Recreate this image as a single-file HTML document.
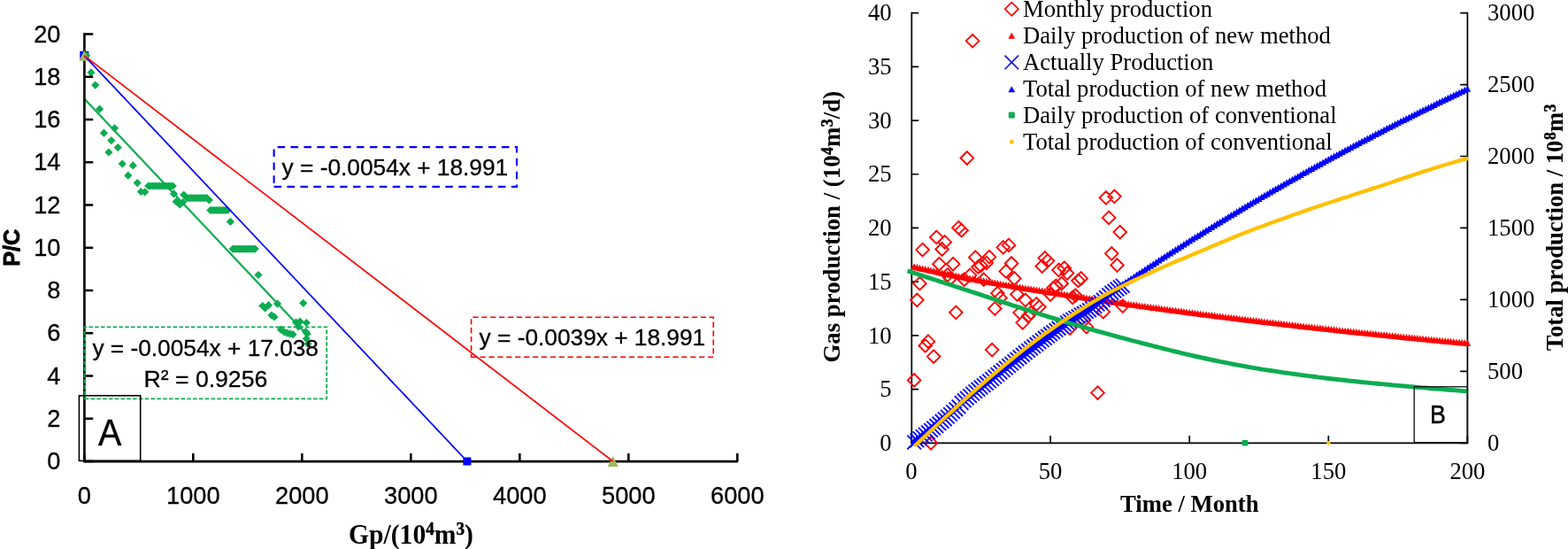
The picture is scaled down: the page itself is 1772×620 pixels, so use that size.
<!DOCTYPE html>
<html lang="en"><head><meta charset="utf-8"><title>Figure</title>
<style>
html,body{margin:0;padding:0;background:#fff;}
body{width:1772px;height:620px;overflow:hidden;}
svg{display:block;}
text{fill:#000;}
.cb{stroke:#000;stroke-width:0.3px;}
.sp{stroke:#000;stroke-width:0.45px;}
</style></head><body>
<svg width="1772" height="620" viewBox="0 0 1772 620">
<rect width="1772" height="620" fill="#fff"/>
<g id="left">
<rect x="90.3" y="57.8" width="10" height="10" fill="#0000ff"/>
<path d="M93.0 62.8L97.6 58.2L102.2 62.8L97.6 67.4ZM98.3 81.9L102.9 77.3L107.5 81.9L102.9 86.5ZM103.1 96.1L107.7 91.5L112.3 96.1L107.7 100.7ZM108.0 123.2L112.6 118.6L117.2 123.2L112.6 127.8ZM124.9 144.8L129.5 140.2L134.1 144.8L129.5 149.4ZM112.8 150.2L117.4 145.6L122.0 150.2L117.4 154.8ZM121.2 158.7L125.8 154.1L130.4 158.7L125.8 163.3ZM128.6 166.6L133.2 162.0L137.8 166.6L133.2 171.2ZM118.3 172.0L122.9 167.4L127.5 172.0L122.9 176.6ZM133.6 185.0L138.2 180.4L142.8 185.0L138.2 189.6ZM145.7 186.9L150.3 182.3L154.9 186.9L150.3 191.5ZM140.2 198.2L144.8 193.6L149.4 198.2L144.8 202.8ZM150.6 206.6L155.2 202.0L159.8 206.6L155.2 211.2ZM154.8 216.5L159.4 211.9L164.0 216.5L159.4 221.1ZM159.1 216.8L163.7 212.2L168.3 216.8L163.7 221.4ZM163.1 210.0L167.7 205.4L172.3 210.0L167.7 214.6ZM165.6 210.0L170.2 205.4L174.8 210.0L170.2 214.6ZM168.1 210.0L172.7 205.4L177.3 210.0L172.7 214.6ZM170.6 210.0L175.2 205.4L179.8 210.0L175.2 214.6ZM173.1 210.0L177.7 205.4L182.3 210.0L177.7 214.6ZM175.6 210.0L180.2 205.4L184.8 210.0L180.2 214.6ZM178.1 210.0L182.7 205.4L187.3 210.0L182.7 214.6ZM180.6 210.0L185.2 205.4L189.8 210.0L185.2 214.6ZM183.1 210.0L187.7 205.4L192.3 210.0L187.7 214.6ZM185.6 210.0L190.2 205.4L194.8 210.0L190.2 214.6ZM188.1 210.0L192.7 205.4L197.3 210.0L192.7 214.6ZM190.6 210.0L195.2 205.4L199.8 210.0L195.2 214.6ZM191.9 218.9L196.5 214.3L201.1 218.9L196.5 223.5ZM194.6 227.7L199.2 223.1L203.8 227.7L199.2 232.3ZM198.6 231.0L203.2 226.4L207.8 231.0L203.2 235.6ZM201.9 228.5L206.5 223.9L211.1 228.5L206.5 233.1ZM203.1 220.0L207.7 215.4L212.3 220.0L207.7 224.6ZM206.7 223.7L211.3 219.1L215.9 223.7L211.3 228.3ZM209.2 223.7L213.8 219.1L218.4 223.7L213.8 228.3ZM211.7 223.7L216.3 219.1L220.9 223.7L216.3 228.3ZM214.2 223.7L218.8 219.1L223.4 223.7L218.8 228.3ZM216.7 223.7L221.3 219.1L225.9 223.7L221.3 228.3ZM219.2 223.7L223.8 219.1L228.4 223.7L223.8 228.3ZM221.7 223.7L226.3 219.1L230.9 223.7L226.3 228.3ZM224.2 223.7L228.8 219.1L233.4 223.7L228.8 228.3ZM226.7 223.7L231.3 219.1L235.9 223.7L231.3 228.3ZM229.2 223.7L233.8 219.1L238.4 223.7L233.8 228.3ZM231.7 225.8L236.3 221.2L240.9 225.8L236.3 230.4ZM233.3 237.4L237.9 232.8L242.5 237.4L237.9 242.0ZM235.7 237.4L240.3 232.8L244.9 237.4L240.3 242.0ZM238.1 237.4L242.7 232.8L247.3 237.4L242.7 242.0ZM240.5 237.4L245.1 232.8L249.7 237.4L245.1 242.0ZM242.9 237.4L247.5 232.8L252.1 237.4L247.5 242.0ZM245.3 237.4L249.9 232.8L254.5 237.4L249.9 242.0ZM247.7 237.4L252.3 232.8L256.9 237.4L252.3 242.0ZM250.1 237.4L254.7 232.8L259.3 237.4L254.7 242.0ZM252.5 237.4L257.1 232.8L261.7 237.4L257.1 242.0ZM255.8 250.4L260.4 245.8L265.0 250.4L260.4 255.0ZM258.6 281.1L263.2 276.5L267.8 281.1L263.2 285.7ZM261.1 281.1L265.7 276.5L270.3 281.1L265.7 285.7ZM263.6 281.1L268.2 276.5L272.8 281.1L268.2 285.7ZM266.1 281.1L270.7 276.5L275.3 281.1L270.7 285.7ZM268.6 281.1L273.2 276.5L277.8 281.1L273.2 285.7ZM271.1 281.1L275.7 276.5L280.3 281.1L275.7 285.7ZM273.6 281.1L278.2 276.5L282.8 281.1L278.2 285.7ZM276.1 281.1L280.7 276.5L285.3 281.1L280.7 285.7ZM278.6 281.1L283.2 276.5L287.8 281.1L283.2 285.7ZM281.1 281.1L285.7 276.5L290.3 281.1L285.7 285.7ZM283.6 281.1L288.2 276.5L292.8 281.1L288.2 285.7ZM287.4 310.5L292.0 305.9L296.6 310.5L292.0 315.1ZM292.2 345.5L296.8 340.9L301.4 345.5L296.8 350.1ZM294.9 347.9L299.5 343.3L304.1 347.9L299.5 352.5ZM298.9 344.7L303.5 340.1L308.1 344.7L303.5 349.3ZM308.9 343.1L313.5 338.5L318.1 343.1L313.5 347.7ZM302.2 356.0L306.8 351.4L311.4 356.0L306.8 360.6ZM305.4 357.9L310.0 353.3L314.6 357.9L310.0 362.5ZM338.1 342.3L342.7 337.7L347.3 342.3L342.7 346.9ZM329.9 364.0L334.5 359.4L339.1 364.0L334.5 368.6ZM334.4 363.2L339.0 358.6L343.6 363.2L339.0 367.8ZM332.8 368.9L337.4 364.3L342.0 368.9L337.4 373.5ZM341.7 364.5L346.3 359.9L350.9 364.5L346.3 369.1ZM312.7 372.1L317.3 367.5L321.9 372.1L317.3 376.7ZM316.7 375.0L321.3 370.4L325.9 375.0L321.3 379.6ZM319.9 376.1L324.5 371.5L329.1 376.1L324.5 380.7ZM323.1 376.9L327.7 372.3L332.3 376.9L327.7 381.5ZM326.4 377.7L331.0 373.1L335.6 377.7L331.0 382.3ZM340.9 374.5L345.5 369.9L350.1 374.5L345.5 379.1ZM342.5 376.9L347.1 372.3L351.7 376.9L347.1 381.5ZM341.7 382.6L346.3 378.0L350.9 382.6L346.3 387.2ZM343.3 388.2L347.9 383.6L352.5 388.2L347.9 392.8Z" fill="#0cac50"/>
<line x1="95.3" y1="111.5" x2="346.2" y2="377.2" stroke="#0cac50" stroke-width="2.2"/>
<path d="M95.4 37.2V522.3M94.1 521.1H834" stroke="#000" stroke-width="2.6" fill="none"/>
<path d="M95.4 38.50H105.2M95.4 86.75H105.2M95.4 135.00H105.2M95.4 183.25H105.2M95.4 231.50H105.2M95.4 279.75H105.2M95.4 328.00H105.2M95.4 376.25H105.2M95.4 424.50H105.2M95.4 472.75H105.2M95.4 521.00H105.2M95.30 521V512.1M218.30 521V512.1M341.30 521V512.1M464.30 521V512.1M587.30 521V512.1M710.30 521V512.1M833.30 521V512.1" stroke="#000" stroke-width="2.6" fill="none"/>
<rect x="523.4" y="516.5" width="9" height="9" fill="#0000ff"/>
<path d="M89.3 68.8L95.3 56.8L101.3 68.8Z" fill="#9bbb59"/>
<line x1="95.3" y1="62.8" x2="527.9" y2="521.0" stroke="#0000ff" stroke-width="1.7"/>
<path d="M686.7 527.0L692.7 515.0L698.7 527.0Z" fill="#9bbb59"/>
<line x1="95.3" y1="62.8" x2="692.7" y2="521.0" stroke="#ff0000" stroke-width="1.7"/>
<text x="68.4" y="47.50" text-anchor="end" class="cb" font-family='"Liberation Sans", sans-serif' font-size="27.2">20</text>
<text x="68.4" y="95.75" text-anchor="end" class="cb" font-family='"Liberation Sans", sans-serif' font-size="27.2">18</text>
<text x="68.4" y="144.00" text-anchor="end" class="cb" font-family='"Liberation Sans", sans-serif' font-size="27.2">16</text>
<text x="68.4" y="192.25" text-anchor="end" class="cb" font-family='"Liberation Sans", sans-serif' font-size="27.2">14</text>
<text x="68.4" y="240.50" text-anchor="end" class="cb" font-family='"Liberation Sans", sans-serif' font-size="27.2">12</text>
<text x="68.4" y="288.75" text-anchor="end" class="cb" font-family='"Liberation Sans", sans-serif' font-size="27.2">10</text>
<text x="68.4" y="337.00" text-anchor="end" class="cb" font-family='"Liberation Sans", sans-serif' font-size="27.2">8</text>
<text x="68.4" y="385.25" text-anchor="end" class="cb" font-family='"Liberation Sans", sans-serif' font-size="27.2">6</text>
<text x="68.4" y="433.50" text-anchor="end" class="cb" font-family='"Liberation Sans", sans-serif' font-size="27.2">4</text>
<text x="68.4" y="481.75" text-anchor="end" class="cb" font-family='"Liberation Sans", sans-serif' font-size="27.2">2</text>
<text x="68.4" y="530.00" text-anchor="end" class="cb" font-family='"Liberation Sans", sans-serif' font-size="27.2">0</text>
<text x="95.30" y="569.2" text-anchor="middle" class="cb" font-family='"Liberation Sans", sans-serif' font-size="27.2">0</text>
<text x="218.30" y="569.2" text-anchor="middle" class="cb" font-family='"Liberation Sans", sans-serif' font-size="27.2">1000</text>
<text x="341.30" y="569.2" text-anchor="middle" class="cb" font-family='"Liberation Sans", sans-serif' font-size="27.2">2000</text>
<text x="464.30" y="569.2" text-anchor="middle" class="cb" font-family='"Liberation Sans", sans-serif' font-size="27.2">3000</text>
<text x="587.30" y="569.2" text-anchor="middle" class="cb" font-family='"Liberation Sans", sans-serif' font-size="27.2">4000</text>
<text x="710.30" y="569.2" text-anchor="middle" class="cb" font-family='"Liberation Sans", sans-serif' font-size="27.2">5000</text>
<text x="833.30" y="569.2" text-anchor="middle" class="cb" font-family='"Liberation Sans", sans-serif' font-size="27.2">6000</text>
<text transform="translate(21.5 300.8) rotate(-90)" font-family='"Liberation Sans", sans-serif' font-weight="bold" font-size="25.6" stroke="#000" stroke-width="0.9" stroke-linejoin="round" textLength="42.0" lengthAdjust="spacingAndGlyphs">P/C</text>
<text transform="translate(394.0 613.9) scale(0.935 1)" font-family='"Liberation Serif", serif' font-weight="bold" font-size="31.7">Gp/(10<tspan dy="-10.4" font-size="20.4" class="sp">4</tspan><tspan dy="10.4">m</tspan><tspan dy="-10.4" font-size="20.4" class="sp">3</tspan><tspan dy="10.4">)</tspan></text>
<path d="M309.6 210.9H584V166.1H309.6Z" fill="none" stroke="#0000ff" stroke-width="2.1" stroke-dasharray="8.5 6.4"/>
<text x="318.6" y="197.9" class="cb" font-family='"Liberation Sans", sans-serif' font-size="26.6" textLength="255.6" lengthAdjust="spacingAndGlyphs">y = -0.0054x + 18.991</text>
<path d="M532.6 403.2H806.2V358.3H532.6Z" fill="none" stroke="#ff0000" stroke-width="1.6" stroke-dasharray="6.3 3.6"/>
<text x="541.6" y="390.1" class="cb" font-family='"Liberation Sans", sans-serif' font-size="26.6" textLength="255.6" lengthAdjust="spacingAndGlyphs">y = -0.0039x + 18.991</text>
<path d="M95.7 450.4H369.2V369.4H95.7Z" fill="none" stroke="#0cac50" stroke-width="1.8" stroke-dasharray="4.5 2.3"/>
<text x="104.4" y="401.7" class="cb" font-family='"Liberation Sans", sans-serif' font-size="26.6" textLength="255.6" lengthAdjust="spacingAndGlyphs">y = -0.0054x + 17.038</text>
<text x="232.4" y="437.3" text-anchor="middle" class="cb" font-family='"Liberation Sans", sans-serif' font-size="26.6">R² = 0.9256</text>
<rect x="89.4" y="446.8" width="69.3" height="73.6" fill="none" stroke="#000" stroke-width="1.6"/>
<text transform="translate(124.1 503.4) scale(0.93 1.01)" text-anchor="middle" font-family='"Liberation Sans", sans-serif' font-size="42.3" stroke="#000" stroke-width="0.5">A</text>
</g>
<g id="right">
<path d="M1030.3 13.7V501.2M1029.4 500.4H1659.3M1658.4 13.9V501.2" stroke="#000" stroke-width="1.7" fill="none"/>
<path d="M1030.3 14.60H1038.2M1030.3 75.31H1038.2M1030.3 136.03H1038.2M1030.3 196.74H1038.2M1030.3 257.45H1038.2M1030.3 318.16H1038.2M1030.3 378.88H1038.2M1030.3 439.59H1038.2M1030.3 500.30H1038.2M1658.4 14.60H1650.2M1658.4 95.55H1650.2M1658.4 176.50H1650.2M1658.4 257.45H1650.2M1658.4 338.40H1650.2M1658.4 419.35H1650.2M1658.4 500.30H1650.2M1030.00 500.4V492M1187.10 500.4V492M1344.20 500.4V492M1501.30 500.4V492M1658.40 500.4V492" stroke="#000" stroke-width="1.7" fill="none"/>
<path d="M1025.8 429.4L1033.1 422.1L1040.4 429.4L1033.1 436.7ZM1029.0 338.8L1036.3 331.5L1043.6 338.8L1036.3 346.1ZM1032.1 320.2L1039.4 312.9L1046.7 320.2L1039.4 327.5ZM1035.3 282.1L1042.6 274.8L1049.9 282.1L1042.6 289.4ZM1038.4 390.4L1045.7 383.1L1053.0 390.4L1045.7 397.7ZM1041.6 385.7L1048.9 378.4L1056.2 385.7L1048.9 393.0ZM1044.7 500.3L1052.0 493.0L1059.3 500.3L1052.0 507.6ZM1047.8 402.6L1055.1 395.3L1062.4 402.6L1055.1 409.9ZM1051.0 267.9L1058.3 260.6L1065.6 267.9L1058.3 275.2ZM1054.1 298.2L1061.4 290.9L1068.7 298.2L1061.4 305.5ZM1057.3 281.5L1064.6 274.2L1071.9 281.5L1064.6 288.8ZM1060.4 273.4L1067.7 266.1L1075.0 273.4L1067.7 280.7ZM1063.5 310.5L1070.8 303.2L1078.1 310.5L1070.8 317.8ZM1066.7 314.5L1074.0 307.2L1081.3 314.5L1074.0 321.8ZM1069.8 298.2L1077.1 290.9L1084.4 298.2L1077.1 305.5ZM1073.0 352.8L1080.3 345.5L1087.6 352.8L1080.3 360.1ZM1076.1 257.2L1083.4 249.9L1090.7 257.2L1083.4 264.5ZM1079.3 260.2L1086.6 252.9L1093.9 260.2L1086.6 267.5ZM1082.4 315.7L1089.7 308.4L1097.0 315.7L1089.7 323.0ZM1085.5 178.5L1092.8 171.2L1100.1 178.5L1092.8 185.8ZM1088.7 310.9L1096.0 303.6L1103.3 310.9L1096.0 318.2ZM1091.8 46.2L1099.1 38.9L1106.4 46.2L1099.1 53.5ZM1095.0 290.7L1102.3 283.4L1109.6 290.7L1102.3 298.0ZM1098.1 301.4L1105.4 294.1L1112.7 301.4L1105.4 308.7ZM1101.2 299.9L1108.5 292.6L1115.8 299.9L1108.5 307.2ZM1104.4 315.7L1111.7 308.4L1119.0 315.7L1111.7 323.0ZM1107.5 296.9L1114.8 289.6L1122.1 296.9L1114.8 304.2ZM1110.7 290.2L1118.0 282.9L1125.3 290.2L1118.0 297.5ZM1113.8 395.1L1121.1 387.8L1128.4 395.1L1121.1 402.4ZM1117.0 348.5L1124.3 341.2L1131.6 348.5L1124.3 355.8ZM1120.1 331.2L1127.4 323.9L1134.7 331.2L1127.4 338.5ZM1123.2 336.4L1130.5 329.1L1137.8 336.4L1130.5 343.7ZM1126.4 279.3L1133.7 272.0L1141.0 279.3L1133.7 286.6ZM1129.5 306.4L1136.8 299.1L1144.1 306.4L1136.8 313.7ZM1132.7 276.9L1140.0 269.6L1147.3 276.9L1140.0 284.2ZM1135.8 297.5L1143.1 290.2L1150.4 297.5L1143.1 304.8ZM1139.0 314.5L1146.3 307.2L1153.6 314.5L1146.3 321.8ZM1142.1 332.4L1149.4 325.1L1156.7 332.4L1149.4 339.7ZM1145.2 353.1L1152.5 345.8L1159.8 353.1L1152.5 360.4ZM1148.4 364.3L1155.7 357.0L1163.0 364.3L1155.7 371.6ZM1151.5 338.8L1158.8 331.5L1166.1 338.8L1158.8 346.1ZM1154.7 357.0L1162.0 349.7L1169.3 357.0L1162.0 364.3ZM1157.8 353.4L1165.1 346.1L1172.4 353.4L1165.1 360.7ZM1164.1 343.4L1171.4 336.1L1178.7 343.4L1171.4 350.7ZM1167.2 346.6L1174.5 339.3L1181.8 346.6L1174.5 353.9ZM1170.4 300.6L1177.7 293.3L1185.0 300.6L1177.7 307.9ZM1173.5 291.4L1180.8 284.1L1188.1 291.4L1180.8 298.7ZM1176.7 294.6L1184.0 287.3L1191.3 294.6L1184.0 301.9ZM1179.8 332.5L1187.1 325.2L1194.4 332.5L1187.1 339.8ZM1182.9 325.4L1190.2 318.1L1197.5 325.4L1190.2 332.7ZM1186.1 323.0L1193.4 315.7L1200.7 323.0L1193.4 330.3ZM1189.2 304.9L1196.5 297.6L1203.8 304.9L1196.5 312.2ZM1192.4 320.2L1199.7 312.9L1207.0 320.2L1199.7 327.5ZM1195.5 302.7L1202.8 295.4L1210.1 302.7L1202.8 310.0ZM1198.7 308.4L1206.0 301.1L1213.3 308.4L1206.0 315.7ZM1201.8 370.6L1209.1 363.3L1216.4 370.6L1209.1 377.9ZM1204.9 335.8L1212.2 328.5L1219.5 335.8L1212.2 343.1ZM1208.1 333.7L1215.4 326.4L1222.7 333.7L1215.4 341.0ZM1211.2 316.9L1218.5 309.6L1225.8 316.9L1218.5 324.2ZM1214.4 314.5L1221.7 307.2L1229.0 314.5L1221.7 321.8ZM1217.5 361.9L1224.8 354.6L1232.1 361.9L1224.8 369.2ZM1220.6 369.2L1227.9 361.9L1235.2 369.2L1227.9 376.5ZM1233.2 443.7L1240.5 436.4L1247.8 443.7L1240.5 451.0ZM1239.5 352.2L1246.8 344.9L1254.1 352.2L1246.8 359.5ZM1242.6 223.3L1249.9 216.0L1257.2 223.3L1249.9 230.6ZM1245.8 245.9L1253.1 238.6L1260.4 245.9L1253.1 253.2ZM1248.9 286.3L1256.2 279.0L1263.5 286.3L1256.2 293.6ZM1252.1 221.8L1259.4 214.5L1266.7 221.8L1259.4 229.1ZM1255.2 299.5L1262.5 292.2L1269.8 299.5L1262.5 306.8ZM1258.4 262.1L1265.7 254.8L1273.0 262.1L1265.7 269.4ZM1261.5 345.6L1268.8 338.3L1276.1 345.6L1268.8 352.9Z" fill="none" stroke="#ff0000" stroke-width="1.9" stroke-linejoin="miter"/>
<path d="M1029.3 304.7L1033.1 297.2L1037.0 304.7ZM1032.4 305.5L1036.3 298.0L1040.1 305.5ZM1035.6 306.2L1039.4 298.7L1043.3 306.2ZM1038.7 306.9L1042.6 299.4L1046.4 306.9ZM1041.9 307.6L1045.7 300.1L1049.6 307.6ZM1045.0 308.3L1048.9 300.8L1052.7 308.3ZM1048.1 308.9L1052.0 301.4L1055.8 308.9ZM1051.3 309.6L1055.1 302.1L1059.0 309.6ZM1054.4 310.3L1058.3 302.8L1062.1 310.3ZM1057.6 311.0L1061.4 303.5L1065.3 311.0ZM1060.7 311.7L1064.6 304.2L1068.4 311.7ZM1063.9 312.3L1067.7 304.8L1071.6 312.3ZM1067.0 313.0L1070.8 305.5L1074.7 313.0ZM1070.1 313.7L1074.0 306.2L1077.8 313.7ZM1073.3 314.3L1077.1 306.8L1081.0 314.3ZM1076.4 315.0L1080.3 307.5L1084.1 315.0ZM1079.6 315.6L1083.4 308.1L1087.3 315.6ZM1082.7 316.2L1086.6 308.7L1090.4 316.2ZM1085.8 316.8L1089.7 309.3L1093.5 316.8ZM1089.0 317.4L1092.8 309.9L1096.7 317.4ZM1092.1 318.0L1096.0 310.5L1099.8 318.0ZM1095.3 318.6L1099.1 311.1L1103.0 318.6ZM1098.4 319.1L1102.3 311.6L1106.1 319.1ZM1101.6 319.7L1105.4 312.2L1109.3 319.7ZM1104.7 320.3L1108.5 312.8L1112.4 320.3ZM1107.8 320.8L1111.7 313.3L1115.5 320.8ZM1111.0 321.4L1114.8 313.9L1118.7 321.4ZM1114.1 322.0L1118.0 314.5L1121.8 322.0ZM1117.3 322.5L1121.1 315.0L1125.0 322.5ZM1120.4 323.1L1124.3 315.6L1128.1 323.1ZM1123.6 323.6L1127.4 316.1L1131.3 323.6ZM1126.7 324.2L1130.5 316.7L1134.4 324.2ZM1129.8 324.7L1133.7 317.2L1137.5 324.7ZM1133.0 325.2L1136.8 317.7L1140.7 325.2ZM1136.1 325.8L1140.0 318.3L1143.8 325.8ZM1139.3 326.3L1143.1 318.8L1147.0 326.3ZM1142.4 326.9L1146.3 319.4L1150.1 326.9ZM1145.5 327.4L1149.4 319.9L1153.2 327.4ZM1148.7 327.9L1152.5 320.4L1156.4 327.9ZM1151.8 328.4L1155.7 320.9L1159.5 328.4ZM1155.0 329.0L1158.8 321.5L1162.7 329.0ZM1158.1 329.5L1162.0 322.0L1165.8 329.5ZM1161.3 330.0L1165.1 322.5L1169.0 330.0ZM1164.4 330.5L1168.2 323.0L1172.1 330.5ZM1167.5 331.1L1171.4 323.6L1175.2 331.1ZM1170.7 331.6L1174.5 324.1L1178.4 331.6ZM1173.8 332.1L1177.7 324.6L1181.5 332.1ZM1177.0 332.6L1180.8 325.1L1184.7 332.6ZM1180.1 333.1L1184.0 325.6L1187.8 333.1ZM1183.2 333.6L1187.1 326.1L1190.9 333.6ZM1186.4 334.1L1190.2 326.6L1194.1 334.1ZM1189.5 334.6L1193.4 327.1L1197.2 334.6ZM1192.7 335.1L1196.5 327.6L1200.4 335.1ZM1195.8 335.6L1199.7 328.1L1203.5 335.6ZM1199.0 336.1L1202.8 328.6L1206.7 336.1ZM1202.1 336.6L1206.0 329.1L1209.8 336.6ZM1205.2 337.1L1209.1 329.6L1212.9 337.1ZM1208.4 337.6L1212.2 330.1L1216.1 337.6ZM1211.5 338.1L1215.4 330.6L1219.2 338.1ZM1214.7 338.6L1218.5 331.1L1222.4 338.6ZM1217.8 339.0L1221.7 331.5L1225.5 339.0ZM1221.0 339.5L1224.8 332.0L1228.7 339.5ZM1224.1 340.0L1227.9 332.5L1231.8 340.0ZM1227.2 340.5L1231.1 333.0L1234.9 340.5ZM1230.4 340.9L1234.2 333.4L1238.1 340.9ZM1233.5 341.4L1237.4 333.9L1241.2 341.4ZM1236.7 341.9L1240.5 334.4L1244.4 341.9ZM1239.8 342.4L1243.7 334.9L1247.5 342.4ZM1242.9 342.8L1246.8 335.3L1250.6 342.8ZM1246.1 343.3L1249.9 335.8L1253.8 343.3ZM1249.2 343.8L1253.1 336.3L1256.9 343.8ZM1252.4 344.2L1256.2 336.7L1260.1 344.2ZM1255.5 344.7L1259.4 337.2L1263.2 344.7ZM1258.7 345.1L1262.5 337.6L1266.4 345.1ZM1261.8 345.6L1265.7 338.1L1269.5 345.6ZM1264.9 346.0L1268.8 338.5L1272.6 346.0ZM1268.1 346.5L1271.9 339.0L1275.8 346.5ZM1271.2 346.9L1275.1 339.4L1278.9 346.9ZM1274.4 347.4L1278.2 339.9L1282.1 347.4ZM1277.5 347.8L1281.4 340.3L1285.2 347.8ZM1280.7 348.3L1284.5 340.8L1288.4 348.3ZM1283.8 348.7L1287.6 341.2L1291.5 348.7ZM1286.9 349.2L1290.8 341.7L1294.6 349.2ZM1290.1 349.6L1293.9 342.1L1297.8 349.6ZM1293.2 350.0L1297.1 342.5L1300.9 350.0ZM1296.4 350.5L1300.2 343.0L1304.1 350.5ZM1299.5 350.9L1303.4 343.4L1307.2 350.9ZM1302.6 351.3L1306.5 343.8L1310.3 351.3ZM1305.8 351.8L1309.6 344.3L1313.5 351.8ZM1308.9 352.2L1312.8 344.7L1316.6 352.2ZM1312.1 352.6L1315.9 345.1L1319.8 352.6ZM1315.2 353.0L1319.1 345.5L1322.9 353.0ZM1318.4 353.5L1322.2 346.0L1326.1 353.5ZM1321.5 353.9L1325.3 346.4L1329.2 353.9ZM1324.6 354.3L1328.5 346.8L1332.3 354.3ZM1327.8 354.7L1331.6 347.2L1335.5 354.7ZM1330.9 355.1L1334.8 347.6L1338.6 355.1ZM1334.1 355.5L1337.9 348.0L1341.8 355.5ZM1337.2 355.9L1341.1 348.4L1344.9 355.9ZM1340.4 356.4L1344.2 348.9L1348.0 356.4ZM1343.5 356.8L1347.3 349.3L1351.2 356.8ZM1346.6 357.2L1350.5 349.7L1354.3 357.2ZM1349.8 357.6L1353.6 350.1L1357.5 357.6ZM1352.9 358.0L1356.8 350.5L1360.6 358.0ZM1356.1 358.4L1359.9 350.9L1363.8 358.4ZM1359.2 358.8L1363.1 351.3L1366.9 358.8ZM1362.3 359.2L1366.2 351.7L1370.0 359.2ZM1365.5 359.6L1369.3 352.1L1373.2 359.6ZM1368.6 360.0L1372.5 352.5L1376.3 360.0ZM1371.8 360.4L1375.6 352.9L1379.5 360.4ZM1374.9 360.8L1378.8 353.3L1382.6 360.8ZM1378.1 361.2L1381.9 353.7L1385.8 361.2ZM1381.2 361.6L1385.0 354.1L1388.9 361.6ZM1384.3 362.0L1388.2 354.5L1392.0 362.0ZM1387.5 362.3L1391.3 354.8L1395.2 362.3ZM1390.6 362.7L1394.5 355.2L1398.3 362.7ZM1393.8 363.1L1397.6 355.6L1401.5 363.1ZM1396.9 363.5L1400.8 356.0L1404.6 363.5ZM1400.0 363.9L1403.9 356.4L1407.7 363.9ZM1403.2 364.3L1407.0 356.8L1410.9 364.3ZM1406.3 364.7L1410.2 357.2L1414.0 364.7ZM1409.5 365.0L1413.3 357.5L1417.2 365.0ZM1412.6 365.4L1416.5 357.9L1420.3 365.4ZM1415.8 365.8L1419.6 358.3L1423.5 365.8ZM1418.9 366.2L1422.8 358.7L1426.6 366.2ZM1422.0 366.6L1425.9 359.1L1429.7 366.6ZM1425.2 366.9L1429.0 359.4L1432.9 366.9ZM1428.3 367.3L1432.2 359.8L1436.0 367.3ZM1431.5 367.7L1435.3 360.2L1439.2 367.7ZM1434.6 368.0L1438.5 360.5L1442.3 368.0ZM1437.8 368.4L1441.6 360.9L1445.5 368.4ZM1440.9 368.8L1444.7 361.3L1448.6 368.8ZM1444.0 369.1L1447.9 361.6L1451.7 369.1ZM1447.2 369.5L1451.0 362.0L1454.9 369.5ZM1450.3 369.9L1454.2 362.4L1458.0 369.9ZM1453.5 370.2L1457.3 362.7L1461.2 370.2ZM1456.6 370.6L1460.5 363.1L1464.3 370.6ZM1459.7 370.9L1463.6 363.4L1467.4 370.9ZM1462.9 371.3L1466.7 363.8L1470.6 371.3ZM1466.0 371.7L1469.9 364.2L1473.7 371.7ZM1469.2 372.0L1473.0 364.5L1476.9 372.0ZM1472.3 372.4L1476.2 364.9L1480.0 372.4ZM1475.5 372.7L1479.3 365.2L1483.2 372.7ZM1478.6 373.1L1482.4 365.6L1486.3 373.1ZM1481.7 373.4L1485.6 365.9L1489.4 373.4ZM1484.9 373.8L1488.7 366.3L1492.6 373.8ZM1488.0 374.1L1491.9 366.6L1495.7 374.1ZM1491.2 374.5L1495.0 367.0L1498.9 374.5ZM1494.3 374.8L1498.2 367.3L1502.0 374.8ZM1497.5 375.1L1501.3 367.6L1505.1 375.1ZM1500.6 375.5L1504.4 368.0L1508.3 375.5ZM1503.7 375.8L1507.6 368.3L1511.4 375.8ZM1506.9 376.2L1510.7 368.7L1514.6 376.2ZM1510.0 376.5L1513.9 369.0L1517.7 376.5ZM1513.2 376.9L1517.0 369.4L1520.9 376.9ZM1516.3 377.2L1520.2 369.7L1524.0 377.2ZM1519.4 377.5L1523.3 370.0L1527.1 377.5ZM1522.6 377.9L1526.4 370.4L1530.3 377.9ZM1525.7 378.2L1529.6 370.7L1533.4 378.2ZM1528.9 378.5L1532.7 371.0L1536.6 378.5ZM1532.0 378.9L1535.9 371.4L1539.7 378.9ZM1535.2 379.2L1539.0 371.7L1542.9 379.2ZM1538.3 379.5L1542.1 372.0L1546.0 379.5ZM1541.4 379.8L1545.3 372.3L1549.1 379.8ZM1544.6 380.2L1548.4 372.7L1552.3 380.2ZM1547.7 380.5L1551.6 373.0L1555.4 380.5ZM1550.9 380.8L1554.7 373.3L1558.6 380.8ZM1554.0 381.2L1557.9 373.7L1561.7 381.2ZM1557.1 381.5L1561.0 374.0L1564.8 381.5ZM1560.3 381.8L1564.1 374.3L1568.0 381.8ZM1563.4 382.1L1567.3 374.6L1571.1 382.1ZM1566.6 382.4L1570.4 374.9L1574.3 382.4ZM1569.7 382.8L1573.6 375.3L1577.4 382.8ZM1572.9 383.1L1576.7 375.6L1580.6 383.1ZM1576.0 383.4L1579.8 375.9L1583.7 383.4ZM1579.1 383.7L1583.0 376.2L1586.8 383.7ZM1582.3 384.0L1586.1 376.5L1590.0 384.0ZM1585.4 384.4L1589.3 376.9L1593.1 384.4ZM1588.6 384.7L1592.4 377.2L1596.3 384.7ZM1591.7 385.0L1595.6 377.5L1599.4 385.0ZM1594.9 385.3L1598.7 377.8L1602.6 385.3ZM1598.0 385.6L1601.8 378.1L1605.7 385.6ZM1601.1 385.9L1605.0 378.4L1608.8 385.9ZM1604.3 386.2L1608.1 378.7L1612.0 386.2ZM1607.4 386.6L1611.3 379.1L1615.1 386.6ZM1610.6 386.9L1614.4 379.4L1618.3 386.9ZM1613.7 387.2L1617.6 379.7L1621.4 387.2ZM1616.8 387.5L1620.7 380.0L1624.5 387.5ZM1620.0 387.8L1623.8 380.3L1627.7 387.8ZM1623.1 388.1L1627.0 380.6L1630.8 388.1ZM1626.3 388.4L1630.1 380.9L1634.0 388.4ZM1629.4 388.7L1633.3 381.2L1637.1 388.7ZM1632.6 389.0L1636.4 381.5L1640.3 389.0ZM1635.7 389.3L1639.5 381.8L1643.4 389.3ZM1638.8 389.6L1642.7 382.1L1646.5 389.6ZM1642.0 389.9L1645.8 382.4L1649.7 389.9ZM1645.1 390.2L1649.0 382.7L1652.8 390.2ZM1648.3 390.5L1652.1 383.0L1656.0 390.5ZM1651.4 390.8L1655.3 383.3L1659.1 390.8ZM1654.6 391.1L1658.4 383.6L1662.2 391.1Z" fill="#ff0000"/>
<path d="M1025.3 491.7L1040.9 507.3M1025.3 507.3L1040.9 491.7M1028.5 489.5L1044.1 505.1M1028.5 505.1L1044.1 489.5M1031.6 487.4L1047.2 503.0M1031.6 503.0L1047.2 487.4M1034.8 485.1L1050.4 500.7M1034.8 500.7L1050.4 485.1M1037.9 482.8L1053.5 498.4M1037.9 498.4L1053.5 482.8M1041.1 480.5L1056.7 496.1M1041.1 496.1L1056.7 480.5M1044.2 478.1L1059.8 493.7M1044.2 493.7L1059.8 478.1M1047.3 475.7L1062.9 491.3M1047.3 491.3L1062.9 475.7M1050.5 473.2L1066.1 488.8M1050.5 488.8L1066.1 473.2M1053.6 470.6L1069.2 486.2M1053.6 486.2L1069.2 470.6M1056.8 468.0L1072.4 483.6M1056.8 483.6L1072.4 468.0M1059.9 465.4L1075.5 481.0M1059.9 481.0L1075.5 465.4M1063.0 462.8L1078.6 478.4M1063.0 478.4L1078.6 462.8M1066.2 460.1L1081.8 475.7M1066.2 475.7L1081.8 460.1M1069.3 457.3L1084.9 472.9M1069.3 472.9L1084.9 457.3M1072.5 454.4L1088.1 470.0M1072.5 470.0L1088.1 454.4M1075.6 451.5L1091.2 467.1M1075.6 467.1L1091.2 451.5M1078.8 447.2L1094.4 462.8M1078.8 462.8L1094.4 447.2M1081.9 444.5L1097.5 460.1M1081.9 460.1L1097.5 444.5M1085.0 441.8L1100.6 457.4M1085.0 457.4L1100.6 441.8M1088.2 439.3L1103.8 454.9M1088.2 454.9L1103.8 439.3M1091.3 436.8L1106.9 452.4M1091.3 452.4L1106.9 436.8M1094.5 434.3L1110.1 449.9M1094.5 449.9L1110.1 434.3M1097.6 432.0L1113.2 447.6M1097.6 447.6L1113.2 432.0M1100.8 429.7L1116.3 445.3M1100.8 445.3L1116.3 429.7M1103.9 427.3L1119.5 442.9M1103.9 442.9L1119.5 427.3M1107.0 425.0L1122.6 440.6M1107.0 440.6L1122.6 425.0M1110.2 422.6L1125.8 438.2M1110.2 438.2L1125.8 422.6M1113.3 420.2L1128.9 435.8M1113.3 435.8L1128.9 420.2M1116.5 417.7L1132.1 433.3M1116.5 433.3L1132.1 417.7M1119.6 415.2L1135.2 430.8M1119.6 430.8L1135.2 415.2M1122.7 412.7L1138.3 428.3M1122.7 428.3L1138.3 412.7M1125.9 410.2L1141.5 425.8M1125.9 425.8L1141.5 410.2M1129.0 407.7L1144.6 423.3M1129.0 423.3L1144.6 407.7M1132.2 405.2L1147.8 420.8M1132.2 420.8L1147.8 405.2M1135.3 402.8L1150.9 418.4M1135.3 418.4L1150.9 402.8M1138.5 400.3L1154.1 415.9M1138.5 415.9L1154.1 400.3M1141.6 397.8L1157.2 413.4M1141.6 413.4L1157.2 397.8M1144.7 395.4L1160.3 411.0M1144.7 411.0L1160.3 395.4M1147.9 392.9L1163.5 408.5M1147.9 408.5L1163.5 392.9M1151.0 390.5L1166.6 406.1M1151.0 406.1L1166.6 390.5M1154.2 388.1L1169.8 403.7M1154.2 403.7L1169.8 388.1M1157.3 385.7L1172.9 401.3M1157.3 401.3L1172.9 385.7M1160.4 383.3L1176.0 398.9M1160.4 398.9L1176.0 383.3M1163.6 381.0L1179.2 396.6M1163.6 396.6L1179.2 381.0M1166.7 378.6L1182.3 394.2M1166.7 394.2L1182.3 378.6M1169.9 376.3L1185.5 391.9M1169.9 391.9L1185.5 376.3M1173.0 374.0L1188.6 389.6M1173.0 389.6L1188.6 374.0M1176.2 371.8L1191.8 387.4M1176.2 387.4L1191.8 371.8M1179.3 369.5L1194.9 385.1M1179.3 385.1L1194.9 369.5M1182.4 367.3L1198.0 382.9M1182.4 382.9L1198.0 367.3M1185.6 365.1L1201.2 380.7M1185.6 380.7L1201.2 365.1M1188.7 362.9L1204.3 378.5M1188.7 378.5L1204.3 362.9M1191.9 360.8L1207.5 376.4M1191.9 376.4L1207.5 360.8M1195.0 358.7L1210.6 374.3M1195.0 374.3L1210.6 358.7M1198.2 356.6L1213.8 372.2M1198.2 372.2L1213.8 356.6M1201.3 354.7L1216.9 370.3M1201.3 370.3L1216.9 354.7M1204.4 352.9L1220.0 368.5M1204.4 368.5L1220.0 352.9M1207.6 351.1L1223.2 366.7M1207.6 366.7L1223.2 351.1M1210.7 349.4L1226.3 365.0M1210.7 365.0L1226.3 349.4M1213.9 347.6L1229.5 363.2M1213.9 363.2L1229.5 347.6M1217.0 346.0L1232.6 361.6M1217.0 361.6L1232.6 346.0M1220.1 344.3L1235.7 359.9M1220.1 359.9L1235.7 344.3M1223.3 342.5L1238.9 358.1M1223.3 358.1L1238.9 342.5M1226.4 340.5L1242.0 356.1M1226.4 356.1L1242.0 340.5M1229.6 338.2L1245.2 353.8M1229.6 353.8L1245.2 338.2M1232.7 335.8L1248.3 351.4M1232.7 351.4L1248.3 335.8M1235.9 333.4L1251.5 349.0M1235.9 349.0L1251.5 333.4M1239.0 330.9L1254.6 346.5M1239.0 346.5L1254.6 330.9M1242.1 328.1L1257.7 343.7M1242.1 343.7L1257.7 328.1M1245.3 325.4L1260.9 341.0M1245.3 341.0L1260.9 325.4M1248.4 322.9L1264.0 338.5M1248.4 338.5L1264.0 322.9M1251.6 320.8L1267.2 336.4M1251.6 336.4L1267.2 320.8M1254.7 318.7L1270.3 334.3M1254.7 334.3L1270.3 318.7M1257.9 316.7L1273.5 332.3M1257.9 332.3L1273.5 316.7M1261.0 314.9L1276.6 330.5M1261.0 330.5L1276.6 314.9" fill="none" stroke="#0000ff" stroke-width="1.8"/>
<path d="M1029.3 501.4L1033.1 493.9L1037.0 501.4ZM1032.4 498.8L1036.3 491.3L1040.1 498.8ZM1035.6 496.2L1039.4 488.7L1043.3 496.2ZM1038.7 493.6L1042.6 486.1L1046.4 493.6ZM1041.9 491.0L1045.7 483.5L1049.6 491.0ZM1045.0 488.4L1048.9 480.9L1052.7 488.4ZM1048.1 485.9L1052.0 478.4L1055.8 485.9ZM1051.3 483.3L1055.1 475.8L1059.0 483.3ZM1054.4 480.7L1058.3 473.2L1062.1 480.7ZM1057.6 478.2L1061.4 470.7L1065.3 478.2ZM1060.7 475.6L1064.6 468.1L1068.4 475.6ZM1063.9 473.1L1067.7 465.6L1071.6 473.1ZM1067.0 470.5L1070.8 463.0L1074.7 470.5ZM1070.1 468.0L1074.0 460.5L1077.8 468.0ZM1073.3 465.5L1077.1 458.0L1081.0 465.5ZM1076.4 463.0L1080.3 455.5L1084.1 463.0ZM1079.6 460.5L1083.4 453.0L1087.3 460.5ZM1082.7 458.0L1086.6 450.5L1090.4 458.0ZM1085.8 455.5L1089.7 448.0L1093.5 455.5ZM1089.0 453.0L1092.8 445.5L1096.7 453.0ZM1092.1 450.5L1096.0 443.0L1099.8 450.5ZM1095.3 448.1L1099.1 440.6L1103.0 448.1ZM1098.4 445.6L1102.3 438.1L1106.1 445.6ZM1101.6 443.1L1105.4 435.6L1109.3 443.1ZM1104.7 440.7L1108.5 433.2L1112.4 440.7ZM1107.8 438.2L1111.7 430.7L1115.5 438.2ZM1111.0 435.8L1114.8 428.3L1118.7 435.8ZM1114.1 433.4L1118.0 425.9L1121.8 433.4ZM1117.3 431.0L1121.1 423.5L1125.0 431.0ZM1120.4 428.5L1124.3 421.0L1128.1 428.5ZM1123.6 426.1L1127.4 418.6L1131.3 426.1ZM1126.7 423.7L1130.5 416.2L1134.4 423.7ZM1129.8 421.3L1133.7 413.8L1137.5 421.3ZM1133.0 419.0L1136.8 411.5L1140.7 419.0ZM1136.1 416.6L1140.0 409.1L1143.8 416.6ZM1139.3 414.2L1143.1 406.7L1147.0 414.2ZM1142.4 411.8L1146.3 404.3L1150.1 411.8ZM1145.5 409.5L1149.4 402.0L1153.2 409.5ZM1148.7 407.1L1152.5 399.6L1156.4 407.1ZM1151.8 404.8L1155.7 397.3L1159.5 404.8ZM1155.0 402.4L1158.8 394.9L1162.7 402.4ZM1158.1 400.1L1162.0 392.6L1165.8 400.1ZM1161.3 397.8L1165.1 390.3L1169.0 397.8ZM1164.4 395.5L1168.2 388.0L1172.1 395.5ZM1167.5 393.1L1171.4 385.6L1175.2 393.1ZM1170.7 390.8L1174.5 383.3L1178.4 390.8ZM1173.8 388.5L1177.7 381.0L1181.5 388.5ZM1177.0 386.2L1180.8 378.7L1184.7 386.2ZM1180.1 384.0L1184.0 376.5L1187.8 384.0ZM1183.2 381.7L1187.1 374.2L1190.9 381.7ZM1186.4 379.4L1190.2 371.9L1194.1 379.4ZM1189.5 377.1L1193.4 369.6L1197.2 377.1ZM1192.7 374.9L1196.5 367.4L1200.4 374.9ZM1195.8 372.6L1199.7 365.1L1203.5 372.6ZM1199.0 370.4L1202.8 362.9L1206.7 370.4ZM1202.1 368.1L1206.0 360.6L1209.8 368.1ZM1205.2 365.9L1209.1 358.4L1212.9 365.9ZM1208.4 363.7L1212.2 356.2L1216.1 363.7ZM1211.5 361.4L1215.4 353.9L1219.2 361.4ZM1214.7 359.2L1218.5 351.7L1222.4 359.2ZM1217.8 357.0L1221.7 349.5L1225.5 357.0ZM1221.0 354.8L1224.8 347.3L1228.7 354.8ZM1224.1 352.6L1227.9 345.1L1231.8 352.6ZM1227.2 350.4L1231.1 342.9L1234.9 350.4ZM1230.4 348.2L1234.2 340.7L1238.1 348.2ZM1233.5 346.1L1237.4 338.6L1241.2 346.1ZM1236.7 343.9L1240.5 336.4L1244.4 343.9ZM1239.8 341.7L1243.7 334.2L1247.5 341.7ZM1242.9 339.6L1246.8 332.1L1250.6 339.6ZM1246.1 337.4L1249.9 329.9L1253.8 337.4ZM1249.2 335.3L1253.1 327.8L1256.9 335.3ZM1252.4 333.1L1256.2 325.6L1260.1 333.1ZM1255.5 331.0L1259.4 323.5L1263.2 331.0ZM1258.7 328.9L1262.5 321.4L1266.4 328.9ZM1261.8 326.7L1265.7 319.2L1269.5 326.7ZM1264.9 324.6L1268.8 317.1L1272.6 324.6ZM1268.1 322.5L1271.9 315.0L1275.8 322.5ZM1271.2 320.4L1275.1 312.9L1278.9 320.4ZM1274.4 318.3L1278.2 310.8L1282.1 318.3ZM1277.5 316.2L1281.4 308.7L1285.2 316.2ZM1280.7 314.1L1284.5 306.6L1288.4 314.1ZM1283.8 312.0L1287.6 304.5L1291.5 312.0ZM1286.9 310.0L1290.8 302.5L1294.6 310.0ZM1290.1 307.9L1293.9 300.4L1297.8 307.9ZM1293.2 305.8L1297.1 298.3L1300.9 305.8ZM1296.4 303.8L1300.2 296.3L1304.1 303.8ZM1299.5 301.7L1303.4 294.2L1307.2 301.7ZM1302.6 299.7L1306.5 292.2L1310.3 299.7ZM1305.8 297.6L1309.6 290.1L1313.5 297.6ZM1308.9 295.6L1312.8 288.1L1316.6 295.6ZM1312.1 293.6L1315.9 286.1L1319.8 293.6ZM1315.2 291.5L1319.1 284.0L1322.9 291.5ZM1318.4 289.5L1322.2 282.0L1326.1 289.5ZM1321.5 287.5L1325.3 280.0L1329.2 287.5ZM1324.6 285.5L1328.5 278.0L1332.3 285.5ZM1327.8 283.5L1331.6 276.0L1335.5 283.5ZM1330.9 281.5L1334.8 274.0L1338.6 281.5ZM1334.1 279.5L1337.9 272.0L1341.8 279.5ZM1337.2 277.5L1341.1 270.0L1344.9 277.5ZM1340.4 275.6L1344.2 268.1L1348.0 275.6ZM1343.5 273.6L1347.3 266.1L1351.2 273.6ZM1346.6 271.6L1350.5 264.1L1354.3 271.6ZM1349.8 269.7L1353.6 262.2L1357.5 269.7ZM1352.9 267.7L1356.8 260.2L1360.6 267.7ZM1356.1 265.8L1359.9 258.3L1363.8 265.8ZM1359.2 263.8L1363.1 256.3L1366.9 263.8ZM1362.3 261.9L1366.2 254.4L1370.0 261.9ZM1365.5 259.9L1369.3 252.4L1373.2 259.9ZM1368.6 258.0L1372.5 250.5L1376.3 258.0ZM1371.8 256.1L1375.6 248.6L1379.5 256.1ZM1374.9 254.2L1378.8 246.7L1382.6 254.2ZM1378.1 252.3L1381.9 244.8L1385.8 252.3ZM1381.2 250.4L1385.0 242.9L1388.9 250.4ZM1384.3 248.5L1388.2 241.0L1392.0 248.5ZM1387.5 246.6L1391.3 239.1L1395.2 246.6ZM1390.6 244.7L1394.5 237.2L1398.3 244.7ZM1393.8 242.8L1397.6 235.3L1401.5 242.8ZM1396.9 240.9L1400.8 233.4L1404.6 240.9ZM1400.0 239.0L1403.9 231.5L1407.7 239.0ZM1403.2 237.2L1407.0 229.7L1410.9 237.2ZM1406.3 235.3L1410.2 227.8L1414.0 235.3ZM1409.5 233.4L1413.3 225.9L1417.2 233.4ZM1412.6 231.6L1416.5 224.1L1420.3 231.6ZM1415.8 229.7L1419.6 222.2L1423.5 229.7ZM1418.9 227.9L1422.8 220.4L1426.6 227.9ZM1422.0 226.1L1425.9 218.6L1429.7 226.1ZM1425.2 224.2L1429.0 216.7L1432.9 224.2ZM1428.3 222.4L1432.2 214.9L1436.0 222.4ZM1431.5 220.6L1435.3 213.1L1439.2 220.6ZM1434.6 218.8L1438.5 211.3L1442.3 218.8ZM1437.8 217.0L1441.6 209.5L1445.5 217.0ZM1440.9 215.2L1444.7 207.7L1448.6 215.2ZM1444.0 213.4L1447.9 205.9L1451.7 213.4ZM1447.2 211.6L1451.0 204.1L1454.9 211.6ZM1450.3 209.8L1454.2 202.3L1458.0 209.8ZM1453.5 208.0L1457.3 200.5L1461.2 208.0ZM1456.6 206.2L1460.5 198.7L1464.3 206.2ZM1459.7 204.4L1463.6 196.9L1467.4 204.4ZM1462.9 202.7L1466.7 195.2L1470.6 202.7ZM1466.0 200.9L1469.9 193.4L1473.7 200.9ZM1469.2 199.1L1473.0 191.6L1476.9 199.1ZM1472.3 197.4L1476.2 189.9L1480.0 197.4ZM1475.5 195.6L1479.3 188.1L1483.2 195.6ZM1478.6 193.9L1482.4 186.4L1486.3 193.9ZM1481.7 192.2L1485.6 184.7L1489.4 192.2ZM1484.9 190.4L1488.7 182.9L1492.6 190.4ZM1488.0 188.7L1491.9 181.2L1495.7 188.7ZM1491.2 187.0L1495.0 179.5L1498.9 187.0ZM1494.3 185.2L1498.2 177.7L1502.0 185.2ZM1497.5 183.5L1501.3 176.0L1505.1 183.5ZM1500.6 181.8L1504.4 174.3L1508.3 181.8ZM1503.7 180.1L1507.6 172.6L1511.4 180.1ZM1506.9 178.4L1510.7 170.9L1514.6 178.4ZM1510.0 176.7L1513.9 169.2L1517.7 176.7ZM1513.2 175.0L1517.0 167.5L1520.9 175.0ZM1516.3 173.3L1520.2 165.8L1524.0 173.3ZM1519.4 171.7L1523.3 164.2L1527.1 171.7ZM1522.6 170.0L1526.4 162.5L1530.3 170.0ZM1525.7 168.3L1529.6 160.8L1533.4 168.3ZM1528.9 166.7L1532.7 159.2L1536.6 166.7ZM1532.0 165.0L1535.9 157.5L1539.7 165.0ZM1535.2 163.3L1539.0 155.8L1542.9 163.3ZM1538.3 161.7L1542.1 154.2L1546.0 161.7ZM1541.4 160.0L1545.3 152.5L1549.1 160.0ZM1544.6 158.4L1548.4 150.9L1552.3 158.4ZM1547.7 156.7L1551.6 149.2L1555.4 156.7ZM1550.9 155.1L1554.7 147.6L1558.6 155.1ZM1554.0 153.5L1557.9 146.0L1561.7 153.5ZM1557.1 151.9L1561.0 144.4L1564.8 151.9ZM1560.3 150.2L1564.1 142.7L1568.0 150.2ZM1563.4 148.6L1567.3 141.1L1571.1 148.6ZM1566.6 147.0L1570.4 139.5L1574.3 147.0ZM1569.7 145.4L1573.6 137.9L1577.4 145.4ZM1572.9 143.8L1576.7 136.3L1580.6 143.8ZM1576.0 142.2L1579.8 134.7L1583.7 142.2ZM1579.1 140.6L1583.0 133.1L1586.8 140.6ZM1582.3 139.0L1586.1 131.5L1590.0 139.0ZM1585.4 137.4L1589.3 129.9L1593.1 137.4ZM1588.6 135.9L1592.4 128.4L1596.3 135.9ZM1591.7 134.3L1595.6 126.8L1599.4 134.3ZM1594.9 132.7L1598.7 125.2L1602.6 132.7ZM1598.0 131.2L1601.8 123.7L1605.7 131.2ZM1601.1 129.6L1605.0 122.1L1608.8 129.6ZM1604.3 128.0L1608.1 120.5L1612.0 128.0ZM1607.4 126.5L1611.3 119.0L1615.1 126.5ZM1610.6 124.9L1614.4 117.4L1618.3 124.9ZM1613.7 123.4L1617.6 115.9L1621.4 123.4ZM1616.8 121.9L1620.7 114.4L1624.5 121.9ZM1620.0 120.3L1623.8 112.8L1627.7 120.3ZM1623.1 118.8L1627.0 111.3L1630.8 118.8ZM1626.3 117.3L1630.1 109.8L1634.0 117.3ZM1629.4 115.7L1633.3 108.2L1637.1 115.7ZM1632.6 114.2L1636.4 106.7L1640.3 114.2ZM1635.7 112.7L1639.5 105.2L1643.4 112.7ZM1638.8 111.2L1642.7 103.7L1646.5 111.2ZM1642.0 109.7L1645.8 102.2L1649.7 109.7ZM1645.1 108.2L1649.0 100.7L1652.8 108.2ZM1648.3 106.7L1652.1 99.2L1656.0 106.7ZM1651.4 105.2L1655.3 97.7L1659.1 105.2ZM1654.6 103.7L1658.4 96.2L1662.2 103.7Z" fill="#0000ff"/>
<path d="M1025.6 305.9L1030.2 307.4L1034.7 308.9L1039.3 310.4L1043.8 311.9L1048.4 313.3L1053.0 314.8L1057.5 316.3L1062.1 317.8L1066.6 319.2L1071.2 320.7L1075.8 322.2L1080.3 323.7L1084.9 325.2L1089.4 326.7L1094.0 328.2L1098.5 329.7L1103.1 331.2L1107.7 332.7L1112.2 334.2L1116.8 335.7L1121.3 337.2L1125.9 338.7L1130.5 340.2L1135.0 341.7L1139.6 343.2L1144.1 344.7L1148.7 346.2L1153.3 347.7L1157.8 349.2L1162.4 350.6L1166.9 352.1L1171.5 353.5L1176.1 355.0L1180.6 356.4L1185.2 357.8L1189.7 359.2L1194.3 360.6L1198.9 362.0L1203.4 363.3L1208.0 364.7L1212.5 366.0L1217.1 367.4L1221.7 368.7L1226.2 370.0L1230.8 371.3L1235.3 372.6L1239.9 373.8L1244.4 375.1L1249.0 376.4L1253.6 377.6L1258.1 378.9L1262.7 380.1L1267.2 381.3L1271.8 382.5L1276.4 383.8L1280.9 385.0L1285.5 386.2L1290.0 387.4L1294.6 388.5L1299.2 389.7L1303.7 390.9L1308.3 392.0L1312.8 393.2L1317.4 394.3L1322.0 395.5L1326.5 396.6L1331.1 397.7L1335.6 398.8L1340.2 399.9L1344.8 400.9L1349.3 402.0L1353.9 403.0L1358.4 404.0L1363.0 405.0L1367.5 406.0L1372.1 407.0L1376.7 407.9L1381.2 408.8L1385.8 409.7L1390.3 410.6L1394.9 411.5L1399.5 412.3L1404.0 413.2L1408.6 414.0L1413.1 414.8L1417.7 415.6L1422.3 416.3L1426.8 417.1L1431.4 417.8L1435.9 418.5L1440.5 419.2L1445.1 419.9L1449.6 420.6L1454.2 421.2L1458.7 421.9L1463.3 422.5L1467.9 423.1L1472.4 423.8L1477.0 424.4L1481.5 424.9L1486.1 425.5L1490.6 426.1L1495.2 426.6L1499.8 427.2L1504.3 427.7L1508.9 428.2L1513.4 428.8L1518.0 429.3L1522.6 429.8L1527.1 430.3L1531.7 430.7L1536.2 431.2L1540.8 431.7L1545.4 432.1L1549.9 432.6L1554.5 433.0L1559.0 433.5L1563.6 433.9L1568.2 434.3L1572.7 434.8L1577.3 435.2L1581.8 435.6L1586.4 436.0L1591.0 436.4L1595.5 436.8L1600.1 437.2L1604.6 437.6L1609.2 437.9L1613.7 438.3L1618.3 438.7L1622.9 439.1L1627.4 439.4L1632.0 439.8L1636.5 440.2L1641.1 440.5L1645.7 440.9L1650.2 441.3L1654.8 441.6L1659.3 442.0" fill="none" stroke="#0cac50" stroke-width="4.9" stroke-linecap="butt" stroke-linejoin="round"/>
<rect x="1403.6" y="497.1" width="6.8" height="6.4" rx="0.8" fill="#0cac50"/>
<path d="M1033.5 503.7L1038.0 499.5L1042.5 495.3L1047.0 491.1L1051.5 486.9L1056.0 482.7L1060.5 478.5L1065.0 474.3L1069.5 470.2L1074.0 466.0L1078.5 461.9L1083.0 457.8L1087.5 453.7L1092.0 449.6L1096.5 445.6L1101.0 441.6L1105.5 437.6L1110.0 433.7L1114.5 429.8L1119.0 425.9L1123.5 422.1L1128.0 418.3L1132.5 414.5L1137.0 410.8L1141.5 407.2L1146.0 403.5L1150.5 399.9L1155.0 396.4L1159.5 392.9L1164.0 389.4L1168.5 386.0L1173.0 382.7L1177.5 379.3L1182.0 376.1L1186.6 372.9L1191.1 369.7L1195.6 366.6L1200.1 363.5L1204.6 360.4L1209.1 357.4L1213.6 354.5L1218.1 351.6L1222.6 348.8L1227.1 346.0L1231.6 343.2L1236.1 340.5L1240.6 337.8L1245.1 335.2L1249.6 332.7L1254.1 330.2L1258.6 327.9L1263.1 325.6L1267.6 323.3L1272.1 321.1L1276.6 318.9L1281.1 316.7L1285.6 314.7L1290.1 312.6L1294.6 310.6L1299.1 308.5L1303.6 306.5L1308.1 304.4L1312.6 302.4L1317.1 300.4L1321.6 298.5L1326.1 296.5L1330.6 294.6L1335.1 292.7L1339.6 290.9L1344.1 289.0L1348.7 287.1L1353.2 285.2L1357.7 283.3L1362.2 281.4L1366.7 279.5L1371.2 277.6L1375.7 275.7L1380.2 273.8L1384.7 272.0L1389.2 270.1L1393.7 268.2L1398.2 266.3L1402.7 264.5L1407.2 262.8L1411.7 261.1L1416.2 259.3L1420.7 257.6L1425.2 256.0L1429.7 254.3L1434.2 252.6L1438.7 251.0L1443.2 249.3L1447.7 247.7L1452.2 246.1L1456.7 244.4L1461.2 242.8L1465.7 241.2L1470.2 239.7L1474.7 238.1L1479.2 236.5L1483.7 235.0L1488.2 233.5L1492.7 232.0L1497.2 230.5L1501.7 229.0L1506.2 227.5L1510.8 226.1L1515.3 224.6L1519.8 223.1L1524.3 221.7L1528.8 220.2L1533.3 218.8L1537.8 217.3L1542.3 215.9L1546.8 214.4L1551.3 212.9L1555.8 211.5L1560.3 210.0L1564.8 208.5L1569.3 207.0L1573.8 205.5L1578.3 203.9L1582.8 202.4L1587.3 200.9L1591.8 199.4L1596.3 197.9L1600.8 196.4L1605.3 194.9L1609.8 193.4L1614.3 192.0L1618.8 190.5L1623.3 189.1L1627.8 187.7L1632.3 186.3L1636.8 185.0L1641.3 183.7L1645.8 182.4L1650.3 181.2L1654.8 179.9L1659.3 178.8" fill="none" stroke="#ffc000" stroke-width="4.3" stroke-linecap="butt" stroke-linejoin="round"/>
<circle cx="1501.3" cy="500.3" r="2.3" fill="#ffc000"/>
<text x="1007.6" y="23.30" text-anchor="end" font-family='"Liberation Serif", serif' font-size="26.67">40</text>
<text x="1007.6" y="84.01" text-anchor="end" font-family='"Liberation Serif", serif' font-size="26.67">35</text>
<text x="1007.6" y="144.72" text-anchor="end" font-family='"Liberation Serif", serif' font-size="26.67">30</text>
<text x="1007.6" y="205.44" text-anchor="end" font-family='"Liberation Serif", serif' font-size="26.67">25</text>
<text x="1007.6" y="266.15" text-anchor="end" font-family='"Liberation Serif", serif' font-size="26.67">20</text>
<text x="1007.6" y="326.86" text-anchor="end" font-family='"Liberation Serif", serif' font-size="26.67">15</text>
<text x="1007.6" y="387.57" text-anchor="end" font-family='"Liberation Serif", serif' font-size="26.67">10</text>
<text x="1007.6" y="448.29" text-anchor="end" font-family='"Liberation Serif", serif' font-size="26.67">5</text>
<text x="1007.6" y="509.00" text-anchor="end" font-family='"Liberation Serif", serif' font-size="26.67">0</text>
<text x="1681" y="23.30" font-family='"Liberation Serif", serif' font-size="26.67">3000</text>
<text x="1681" y="104.25" font-family='"Liberation Serif", serif' font-size="26.67">2500</text>
<text x="1681" y="185.20" font-family='"Liberation Serif", serif' font-size="26.67">2000</text>
<text x="1681" y="266.15" font-family='"Liberation Serif", serif' font-size="26.67">1500</text>
<text x="1681" y="347.10" font-family='"Liberation Serif", serif' font-size="26.67">1000</text>
<text x="1681" y="428.05" font-family='"Liberation Serif", serif' font-size="26.67">500</text>
<text x="1681" y="509.00" font-family='"Liberation Serif", serif' font-size="26.67">0</text>
<text x="1030.00" y="541" text-anchor="middle" font-family='"Liberation Serif", serif' font-size="26.67">0</text>
<text x="1187.10" y="541" text-anchor="middle" font-family='"Liberation Serif", serif' font-size="26.67">50</text>
<text x="1344.20" y="541" text-anchor="middle" font-family='"Liberation Serif", serif' font-size="26.67">100</text>
<text x="1501.30" y="541" text-anchor="middle" font-family='"Liberation Serif", serif' font-size="26.67">150</text>
<text x="1658.40" y="541" text-anchor="middle" font-family='"Liberation Serif", serif' font-size="26.67">200</text>
<text x="1344.3" y="577.7" text-anchor="middle" font-family='"Liberation Serif", serif' font-weight="bold" font-size="26.67">Time / Month</text>
<text transform="translate(948.8 409.6) rotate(-90)" font-family='"Liberation Serif", serif' font-weight="bold" font-size="26.82">Gas production / (10<tspan dy="-8.3" dx="0.5" font-size="17.9" class="sp">4</tspan><tspan dy="8.4">m</tspan><tspan dy="-8.3" dx="0.5" font-size="17.9" class="sp">3</tspan><tspan dy="8.4">/d)</tspan></text>
<text transform="translate(1766.3 396.3) rotate(-90)" font-family='"Liberation Serif", serif' font-weight="bold" font-size="26.67">Total production / 10<tspan dy="-8.3" dx="0.5" font-size="17.9" class="sp">8</tspan><tspan dy="8.4">m</tspan><tspan dy="-8.3" dx="0.5" font-size="17.9" class="sp">3</tspan></text>
<text x="1156" y="18.90" font-family='"Liberation Serif", serif' font-size="26.67">Monthly production</text>
<text x="1156" y="48.85" font-family='"Liberation Serif", serif' font-size="26.67">Daily production of new method</text>
<text x="1156" y="78.80" font-family='"Liberation Serif", serif' font-size="26.67">Actually Production</text>
<text x="1156" y="108.75" font-family='"Liberation Serif", serif' font-size="26.67">Total production of new method</text>
<text x="1156" y="138.70" font-family='"Liberation Serif", serif' font-size="26.67">Daily production of conventional</text>
<text x="1156" y="168.65" font-family='"Liberation Serif", serif' font-size="26.67">Total production of conventional</text>
<path d="M1135.7 10.2L1143.3 2.5999999999999996L1150.8999999999999 10.2L1143.3 17.799999999999997Z" fill="none" stroke="#ff0000" stroke-width="1.7"/>
<path d="M1139.4 43.8L1143.3 36.8L1147.2 43.8Z" fill="#ff0000"/>
<path d="M1135.5 62.60000000000001L1151.1 78.2M1135.5 78.2L1151.1 62.60000000000001" fill="none" stroke="#0000ff" stroke-width="1.5"/>
<path d="M1139.4 104.2L1143.3 97.2L1147.2 104.2Z" fill="#0000ff"/>
<rect x="1139.8" y="126.5" width="7" height="7" rx="1.2" fill="#0cac50"/>
<circle cx="1143.3" cy="160.2" r="2.4" fill="#ffc000"/>
<rect x="1598.2" y="436.8" width="60.2" height="63" fill="none" stroke="#111" stroke-width="1.35"/>
<text transform="translate(1624.9 478.2) scale(0.95 1.03)" text-anchor="middle" font-family='"Liberation Sans", sans-serif' font-size="28.2" stroke="#000" stroke-width="0.4">B</text>
</g>
</svg>
</body></html>
